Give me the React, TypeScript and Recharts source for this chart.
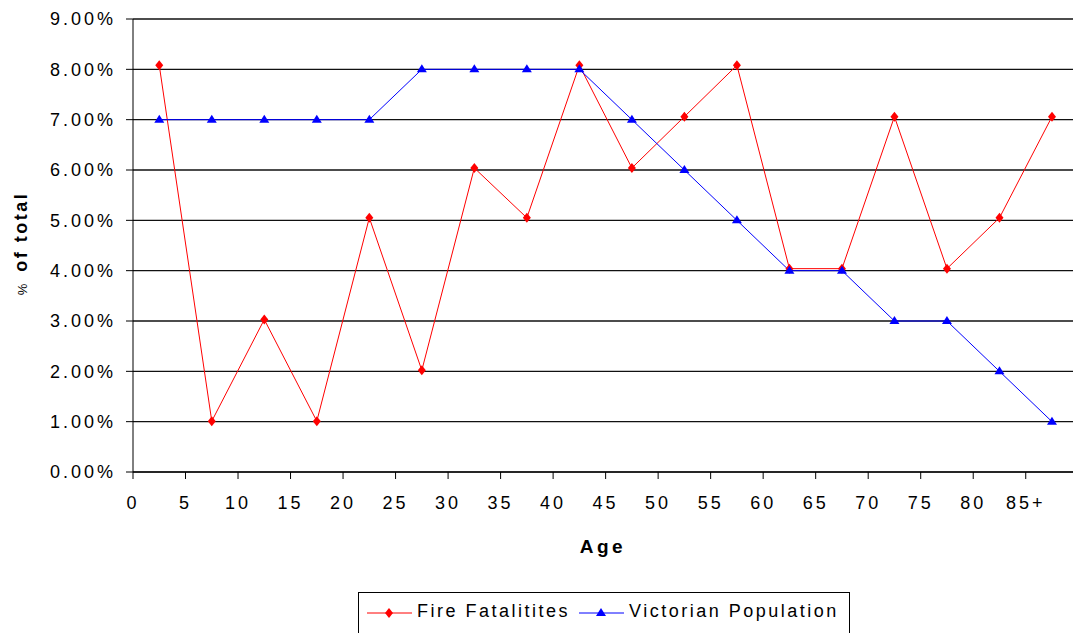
import { CartesianGrid, Line, LineChart, XAxis, YAxis } from "recharts"

const ages = [2.5, 7.5, 12.5, 17.5, 22.5, 27.5, 32.5, 37.5, 42.5, 47.5, 52.5, 57.5, 62.5, 67.5, 72.5, 77.5, 82.5, 87.5]
const fireFatalities = [8.08, 1.01, 3.03, 1.01, 5.05, 2.02, 6.04, 5.05, 8.08, 6.04, 7.06, 8.08, 4.04, 4.04, 7.06, 4.04, 5.05, 7.06]
const victorianPopulation = [7, 7, 7, 7, 7, 8, 8, 8, 8, 7, 6, 5, 4, 4, 3, 3, 2, 1]
const xTicks = [0, 5, 10, 15, 20, 25, 30, 35, 40, 45, 50, 55, 60, 65, 70, 75, 80, 85]
const yTicks = [0, 1, 2, 3, 4, 5, 6, 7, 8, 9]

const data = ages.map((age, i) => ({ age, fire: fireFatalities[i], vic: victorianPopulation[i] }))

const FONT = "'Liberation Sans', Arial, sans-serif"
const tickStyle = { fontFamily: FONT, fontSize: 18, fill: '#000', letterSpacing: 3 }

const Diamond = (props: any) => {
  const { cx, cy } = props
  if (cx == null || cy == null) return null
  return <path d={`M${cx},${cy - 5}L${cx + 4},${cy}L${cx},${cy + 5}L${cx - 4},${cy}Z`} fill="#ff0000" />
}

const Triangle = (props: any) => {
  const { cx, cy } = props
  if (cx == null || cy == null) return null
  return <path d={`M${cx},${cy - 5}L${cx + 5},${cy + 3}L${cx - 5},${cy + 3}Z`} fill="#0000ff" />
}

// rotated "% of total" title, small regular % and bold text
const YLabel = (props: any) => {
  const { viewBox } = props
  const x = 27
  const y = viewBox.y + viewBox.height / 2 - 2
  return (
    <text x={x} y={y} transform={`rotate(-90 ${x} ${y})`} textAnchor="middle" fontFamily={FONT} fill="#000">
      <tspan fontSize={13}>%</tspan>
      <tspan fontSize={18} fontWeight="bold" letterSpacing={2.5} dx={12}>of total</tspan>
    </text>
  )
}

export default function App() {
  return (
    <div style={{ position: 'absolute', left: 0, top: 0, width: 1075, height: 633, overflow: 'hidden', background: '#fff' }}>
      <LineChart width={1075} height={633} data={data} margin={{ top: 19, right: 2, left: 0, bottom: 71 }}>
        <CartesianGrid vertical={false} stroke="#111" strokeWidth={1.3} />
        <XAxis
          dataKey="age"
          type="number"
          domain={[0, 89.5]}
          ticks={xTicks}
          tickFormatter={(v: number) => (v === 85 ? '85+' : String(v))}
          height={90}
          tickSize={7}
          tickMargin={17}
          stroke="#000"
          tick={tickStyle}
          label={{ value: 'Age', position: 'insideBottom', offset: 9, style: { fontFamily: FONT, fontSize: 19, fontWeight: 'bold', fill: '#000', letterSpacing: 3.5 } }}
        />
        <YAxis
          type="number"
          domain={[0, 9]}
          ticks={yTicks}
          width={133}
          tickSize={7}
          tickMargin={10}
          stroke="#000"
          tick={tickStyle}
          tickFormatter={(v: number) => `${v.toFixed(2)}%`}
          label={{ content: <YLabel /> }}
        />
        <Line dataKey="fire" stroke="#ff0000" strokeWidth={1} dot={<Diamond />} activeDot={false} isAnimationActive={false} />
        <Line dataKey="vic" stroke="#0000ff" strokeWidth={1} dot={<Triangle />} activeDot={false} isAnimationActive={false} />
      </LineChart>
      <div style={{ position: 'absolute', left: 358, top: 592, width: 490, height: 60, border: '1px solid #000', fontFamily: FONT, fontSize: 18, letterSpacing: 2.5, color: '#000' }}>
        <svg width={46} height={12} style={{ position: 'absolute', left: 8, top: 14 }}>
          <line x1={0} y1={6} x2={45} y2={6} stroke="#ff0000" strokeWidth={1} />
          <path d="M22,1L26,6L22,11L18,6Z" fill="#ff0000" />
        </svg>
        <span style={{ position: 'absolute', left: 58, top: 8 }}>Fire Fatalitites</span>
        <svg width={46} height={12} style={{ position: 'absolute', left: 220, top: 14 }}>
          <line x1={0} y1={6} x2={45} y2={6} stroke="#0000ff" strokeWidth={1} />
          <path d="M22,1L27,9L17,9Z" fill="#0000ff" />
        </svg>
        <span style={{ position: 'absolute', left: 270, top: 8 }}>Victorian Population</span>
      </div>
    </div>
  )
}
